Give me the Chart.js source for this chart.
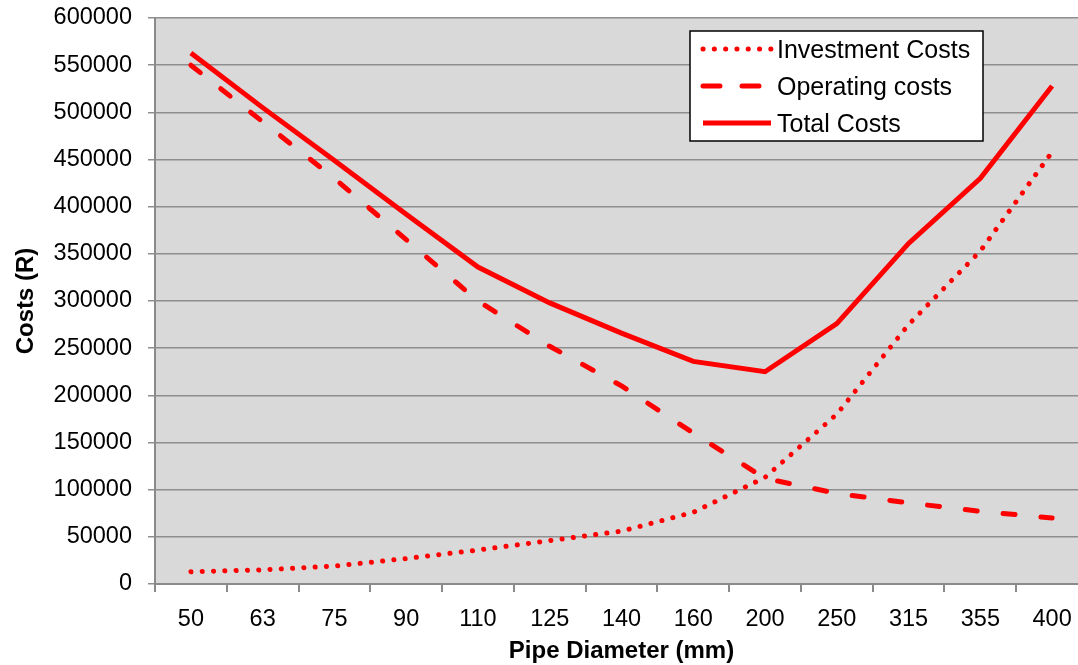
<!DOCTYPE html>
<html>
<head>
<meta charset="utf-8">
<script src="https://cdn.jsdelivr.net/npm/chart.js@4.4.1/dist/chart.umd.min.js"></script>
<style>
  html, body { margin: 0; padding: 0; background: #fff; overflow: hidden; }
  #wrap { width: 1078px; height: 665px; overflow: hidden; }
</style>
</head>
<body>
<div id="wrap"><canvas id="costChart" width="1088" height="665"></canvas></div>
<script>
// pipe sizes (mm)
const diameters = ['50', '63', '75', '90', '110', '125', '140', '160', '200', '250', '315', '355', '400'];

// costs in R
const investmentCosts = [13000, 15000, 19000, 27000, 36000, 46000, 56000, 76000, 113000, 180000, 275000, 353000, 458000];
const operatingCosts  = [550000, 490000, 430000, 365000, 300000, 252000, 210000, 160000, 112000, 96000, 86000, 77000, 70000];
const totalCosts      = [563000, 505000, 449000, 392000, 336000, 298000, 266000, 236000, 225000, 276000, 361000, 430000, 528000];

const yTicks = { min: 0, max: 600000, step: 50000 };

const fontFamily = "'Liberation Sans', Arial, sans-serif";
const red = '#ff0000';

// grey plot background
let plotBg = {
  id: 'plotBg',
  beforeDraw: function(chart){
    let a = chart.chartArea, ctx = chart.ctx;
    ctx.save();
    ctx.fillStyle = '#d9d9d9';
    ctx.fillRect(a.left, a.top, a.right - a.left, a.bottom - a.top);
    ctx.restore();
  }
};

// boxed legend inside the plot, top right
let boxLegend = {
  id: 'boxLegend',
  afterDraw: function(chart){
    let ctx = chart.ctx;
    let x = 690, y = 31, w = 293, h = 110;
    ctx.save();
    ctx.fillStyle = '#fff';
    ctx.fillRect(x, y, w, h);
    ctx.strokeStyle = '#000';
    ctx.lineWidth = 1.5;
    ctx.strokeRect(x, y, w, h);
    let rows = [49, 86, 123];
    chart.data.datasets.forEach(function(ds, i){
      let ry = rows[i];
      ctx.strokeStyle = ds.borderColor;
      ctx.lineWidth = ds.borderWidth;
      ctx.lineCap = ds.borderCapStyle || 'butt';
      ctx.setLineDash(ds.legendDash || ds.borderDash || []);
      ctx.beginPath();
      ctx.moveTo(x + 13, ry);
      ctx.lineTo(x + 81, ry);
      ctx.stroke();
      ctx.setLineDash([]);
      ctx.fillStyle = '#000';
      ctx.font = '25px ' + fontFamily;
      ctx.textBaseline = 'middle';
      ctx.fillText(ds.label, x + 87, ry + 2);
    });
    ctx.restore();
  }
};

let ctx = document.getElementById('costChart').getContext('2d');
new Chart(ctx, {
  type: 'line',
  data: {
    labels: diameters,
    datasets: [
      {
        label: 'Investment Costs',
        data: investmentCosts,
        borderColor: red,
        borderWidth: 5,
        borderDash: [0.1, 11.2],
        borderCapStyle: 'round',
        pointRadius: 0,
        tension: 0
      },
      {
        label: 'Operating costs',
        data: operatingCosts,
        borderColor: red,
        borderWidth: 5,
        borderDash: [12, 26],
        legendDash: [17, 22],
        borderCapStyle: 'round',
        pointRadius: 0,
        tension: 0
      },
      {
        label: 'Total Costs',
        data: totalCosts,
        borderColor: red,
        borderWidth: 5,
        borderCapStyle: 'butt',
        pointRadius: 0,
        tension: 0
      }
    ]
  },
  options: {
    responsive: false,
    animation: false,
    devicePixelRatio: 1,
    layout: { padding: { top: 18, left: 0, right: 0, bottom: 0 } },
    plugins: { legend: { display: false }, tooltip: { enabled: false } },
    scales: {
      x: {
        offset: true,
        grid: { offset: true, drawOnChartArea: false, drawTicks: true, tickLength: 8, color: '#8a8a8a', lineWidth: 2 },
        border: { color: '#8a8a8a', width: 2 },
        ticks: { color: '#000', font: { family: fontFamily, size: 23.5 }, padding: 13, maxRotation: 0, autoSkip: false },
        title: { display: true, text: 'Pipe Diameter (mm)', color: '#000', font: { family: fontFamily, size: 24, weight: 'bold', lineHeight: 1.1 }, padding: { top: 0, bottom: 0 } },
        afterFit: function(scale){ scale.height = 81; scale.paddingLeft = 0; scale.paddingRight = 0; }
      },
      y: {
        min: yTicks.min,
        max: yTicks.max,
        grid: { color: '#8e8e8e', lineWidth: 1.5, drawTicks: true, tickLength: 7 },
        border: { color: '#8a8a8a', width: 2 },
        ticks: {
          stepSize: yTicks.step, color: '#000', font: { family: fontFamily, size: 23.5 }, padding: 16,
          callback: function(v){ return String(v); }
        },
        title: { display: true, text: 'Costs (R)', color: '#000', font: { family: fontFamily, size: 24, weight: 'bold', lineHeight: 1.2 }, padding: { top: 12, bottom: 0 } },
        afterFit: function(scale){ scale.width = 155; scale.paddingTop = 0; scale.paddingBottom = 0; }
      }
    }
  },
  plugins: [plotBg, boxLegend]
});
</script>
</body>
</html>
